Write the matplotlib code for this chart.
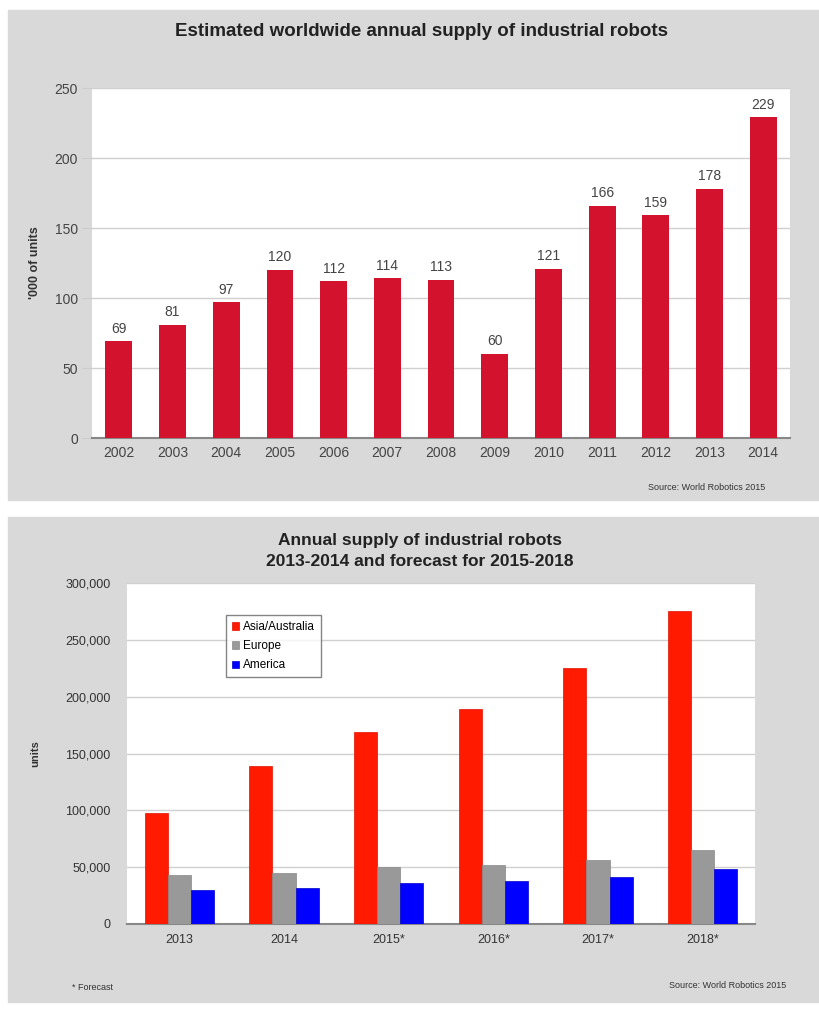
import matplotlib
matplotlib.use("Agg")
import matplotlib.pyplot as plt
from matplotlib.patches import Rectangle
from matplotlib.ticker import FuncFormatter
import numpy as np

# ---- data ----
years_top = ["2002", "2003", "2004", "2005", "2006", "2007", "2008",
             "2009", "2010", "2011", "2012", "2013", "2014"]
supply_top = [69, 81, 97, 120, 112, 114, 113, 60, 121, 166, 159, 178, 229]

years_bot = ["2013", "2014", "2015*", "2016*", "2017*", "2018*"]
asia = [98000, 139000, 169000, 189000, 225000, 275000]
europe = [43000, 45000, 50000, 52000, 56000, 65000]
america = [30000, 32000, 36000, 38000, 41000, 48000]

plt.rcParams["font.family"] = ["Liberation Sans", "DejaVu Sans"]

W, H = 819, 1024
fig = plt.figure(figsize=(W / 100, H / 100), dpi=100)
fig.patch.set_facecolor("white")

def fx(x):
    return x / W

def fy(y):
    return 1 - y / H

panel = "#d9d9d9"
fig.patches.append(Rectangle((fx(8), fy(500)), fx(811), (500 - 10) / H,
                             transform=fig.transFigure, color=panel, zorder=-10))
fig.patches.append(Rectangle((fx(8), fy(1002)), fx(811), (1002 - 517) / H,
                             transform=fig.transFigure, color=panel, zorder=-10))

# ---- top chart ----
ax1 = fig.add_axes([fx(92), fy(438), fx(790 - 92), (438 - 88) / H])
ax1.set_facecolor("white")
x = np.arange(len(years_top))
ax1.bar(x, supply_top, width=0.5, color="#d3122d", zorder=3)
for xi, v in zip(x, supply_top):
    ax1.text(xi, v + 4, str(v), ha="center", va="bottom", fontsize=10, color="#444444")
ax1.set_xlim(-0.5, len(years_top) - 0.5)
ax1.set_ylim(0, 250)
ax1.set_yticks(range(0, 251, 50))
ax1.set_xticks(x)
ax1.set_xticklabels(years_top, fontsize=10, color="#444444")
ax1.tick_params(axis="y", labelsize=10, labelcolor="#444444", length=7, color="#cccccc", pad=3)
ax1.tick_params(axis="x", length=0, pad=6)
ax1.grid(axis="y", color="#d0d0d0", linewidth=1, zorder=0)
for s in ["top", "right", "left"]:
    ax1.spines[s].set_visible(False)
ax1.spines["bottom"].set_color("#888888")
ax1.spines["bottom"].set_linewidth(1.5)
ax1.set_ylabel("'000 of units", fontsize=9, fontweight="bold", color="#333333", labelpad=10)

fig.text(fx(422), fy(32), "Estimated worldwide annual supply of industrial robots",
         ha="center", va="center", fontsize=13.5, fontweight="bold", color="#222222")
fig.text(fx(765), fy(488), "Source: World Robotics 2015", ha="right", va="center",
         fontsize=6.5, color="#333333")

# ---- bottom chart ----
ax2 = fig.add_axes([fx(127), fy(924), fx(755 - 127), (924 - 583) / H])
ax2.set_facecolor("white")
xb = np.arange(len(years_bot))
bw = 0.22
ax2.bar(xb - bw, asia, width=bw, color="#ff1a00", edgecolor="#e01000", linewidth=0.5,
        label="Asia/Australia", zorder=3)
ax2.bar(xb, europe, width=bw, color="#999999", edgecolor="#888888", linewidth=0.5,
        label="Europe", zorder=3)
ax2.bar(xb + bw, america, width=bw, color="#0000ff", edgecolor="#0000cc", linewidth=0.5,
        label="America", zorder=3)
ax2.set_xlim(-0.5, len(years_bot) - 0.5)
ax2.set_ylim(0, 300000)
ax2.set_yticks(range(0, 300001, 50000))
ax2.yaxis.set_major_formatter(FuncFormatter(lambda v, p: f"{int(v):,}"))
ax2.set_xticks(xb)
ax2.set_xticklabels(years_bot, fontsize=9, color="#333333")
ax2.tick_params(axis="y", labelsize=9, labelcolor="#333333", length=0, pad=12)
ax2.tick_params(axis="x", length=0, pad=7)
ax2.grid(axis="y", color="#d0d0d0", linewidth=1, zorder=0)
for s in ["top", "right", "left"]:
    ax2.spines[s].set_visible(False)
ax2.spines["bottom"].set_color("#888888")
ax2.spines["bottom"].set_linewidth(1.5)
ax2.set_ylabel("units", fontsize=8, fontweight="bold", color="#333333", labelpad=18)
leg = ax2.legend(loc="upper left", bbox_to_anchor=(0.158, 0.905), fontsize=8.5,
                 frameon=True, fancybox=False, handlelength=0.6, handleheight=0.6,
                 handletextpad=0.3, borderpad=0.5, labelspacing=0.6, borderaxespad=0)
leg.get_frame().set_edgecolor("#666666")
leg.get_frame().set_linewidth(1)

fig.text(fx(420), fy(541), "Annual supply of industrial robots", ha="center", va="center",
         fontsize=12.5, fontweight="bold", color="#222222")
fig.text(fx(420), fy(561), "2013-2014 and forecast for 2015-2018", ha="center", va="center",
         fontsize=12.5, fontweight="bold", color="#222222")
fig.text(fx(72), fy(987), "* Forecast", ha="left", va="center", fontsize=6.5, color="#333333")
fig.text(fx(786), fy(985), "Source: World Robotics 2015", ha="right", va="center",
         fontsize=6.5, color="#333333")

fig.savefig("out.png", dpi=100, facecolor="white")
